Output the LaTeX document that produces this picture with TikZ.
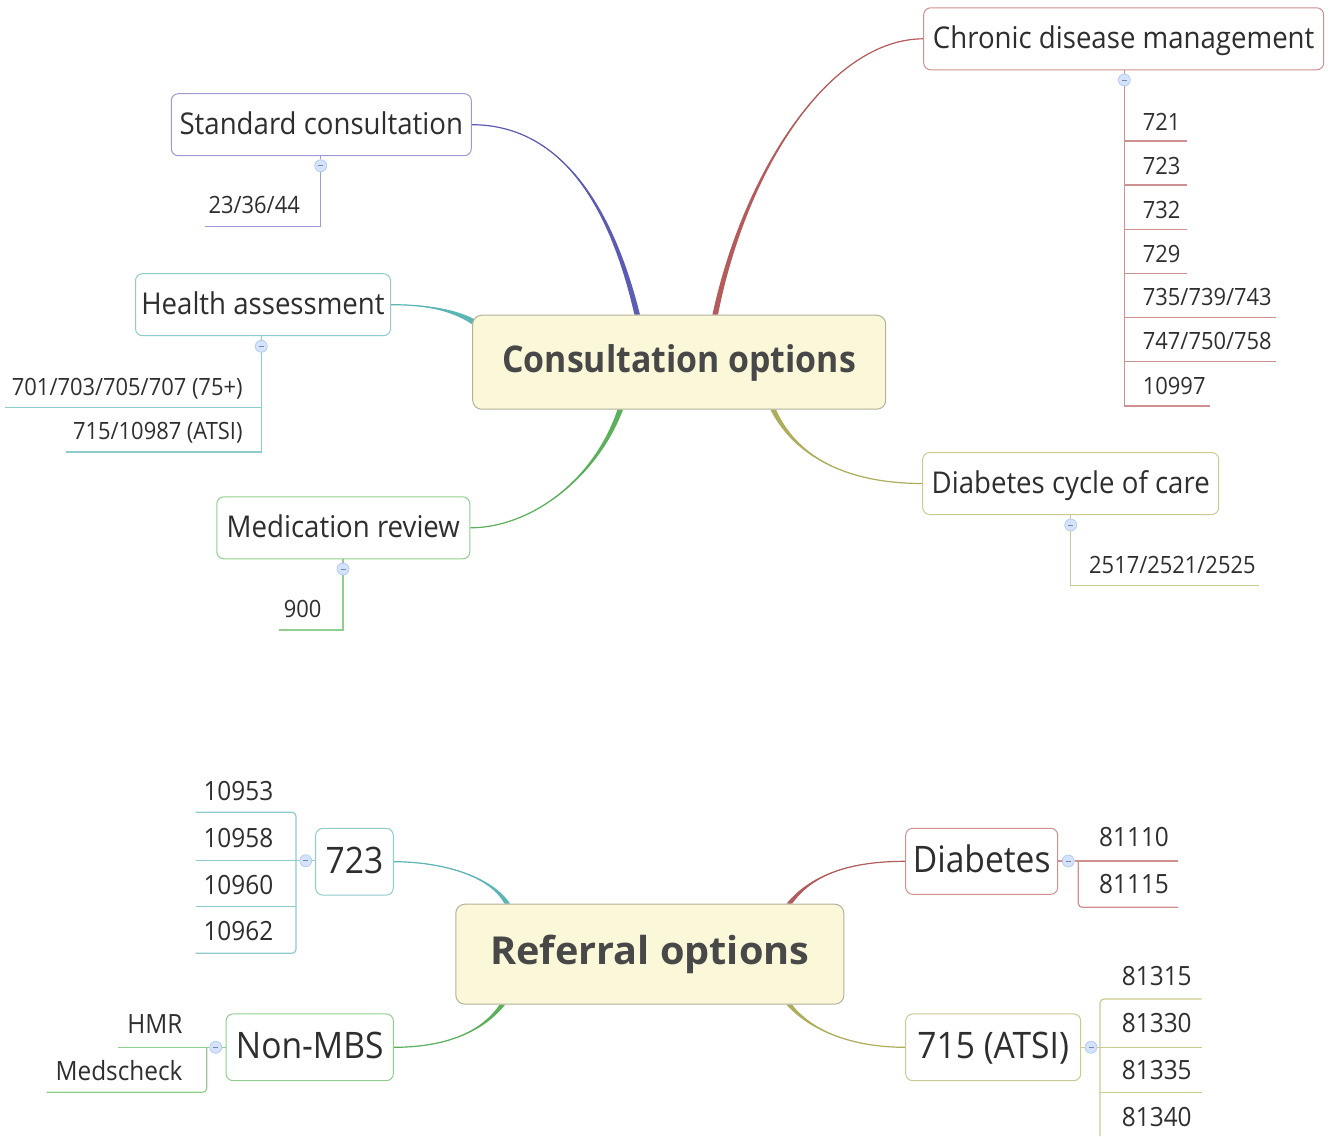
\documentclass[tikz,border=0pt]{standalone}
\usepackage{fontspec}
\setmainfont{Open Sans}[FakeStretch=0.92]
\usetikzlibrary{calc,backgrounds}
\definecolor{txt}{HTML}{2E2E2E}
\definecolor{roottxt}{HTML}{484848}
\definecolor{rootfill}{HTML}{FAF8D8}
\definecolor{rootdraw}{HTML}{B3B19C}
\definecolor{cPur}{HTML}{5C5CB4}\definecolor{bPur}{HTML}{9C9BD4}
\definecolor{cRed}{HTML}{B45C5C}\definecolor{bRed}{HTML}{CF9090}
\definecolor{cTeal}{HTML}{5CB4B4}\definecolor{bTeal}{HTML}{8ECBCB}
\definecolor{cGrn}{HTML}{5CB05C}\definecolor{bGrn}{HTML}{8ECF8E}
\definecolor{cOli}{HTML}{ADAD5C}\definecolor{bOli}{HTML}{CACA92}
\definecolor{dotfill}{HTML}{D4E2FB}\definecolor{dotdraw}{HTML}{A9C5F2}
\newcommand\taperlink[6]{%
  \fill[#1] ($(#2)+(#6)$) .. controls ($(#3)+0.5*(#6)$) and (#4) .. (#5) .. controls (#4) and ($(#3)-0.5*(#6)$) .. ($(#2)-(#6)$) -- cycle;
  \draw[#1, line width=1.2pt] (#2) .. controls (#3) and (#4) .. (#5);}
\begin{document}
\begin{tikzpicture}[x=1pt,y=-1pt,
  topic/.style={draw=#1, line width=1pt, rounded corners=7pt, fill=white, inner sep=0pt, text=txt, text height=19.5pt, text depth=0pt, font=\fontsize{30}{35}\selectfont},
  rtopic/.style={topic=#1, text height=23pt, font=\fontsize{36.5}{42}\selectfont},
  rootbox/.style={draw=rootdraw, line width=1pt, rounded corners=9pt, fill=rootfill, inner sep=0pt, text=roottxt, text height=21pt, text depth=0pt, font=\bfseries\fontsize{36.8}{44}\selectfont},
  citem/.style={inner sep=0pt, text=txt, font=\fontsize{23.8}{28}\selectfont},
  ritem/.style={inner sep=0pt, text=txt, font=\fontsize{26.5}{31}\selectfont},
  subline/.style={draw=#1, line width=1.2pt},
  dot/.style={circle, draw=dotdraw, fill=dotfill, minimum size=12pt, inner sep=0pt, line width=0.6pt,
    path picture={\draw[dotdraw!70!black, line width=0.6pt] ([xshift=-2.5pt]path picture bounding box.center) -- ([xshift=2.5pt]path picture bounding box.center);}},
]
\useasboundingbox (0,0) rectangle (1330,1136);

% ---------------- Consultation options ----------------
\node[rootbox, minimum width=413pt, minimum height=94pt] (cons) at (679.2,362.2) {Consultation options};
\node[topic=bPur, minimum width=300pt, minimum height=62pt] (std) at (321.3,124.7) {Standard consultation};
\node[topic=bTeal, minimum width=255pt, minimum height=62pt] (hea) at (263,304.7) {Health assessment};
\node[topic=bGrn, minimum width=253pt, minimum height=62pt] (med) at (343.3,527.8) {Medication review};
\node[topic=bRed, minimum width=400pt, minimum height=62pt] (chr) at (1123.7,38.8) {Chronic disease management};
\node[topic=bOli, minimum width=296pt, minimum height=62pt] (dcc) at (1070.7,483.5) {Diabetes cycle of care};

\coordinate (sStd) at ($(cons.north west)+(165,0)$);
\coordinate (sChr) at ($(cons.north west)+(243,0)$);
\coordinate (sHea) at ($(cons.north west)+(1,7)$);
\coordinate (sMed) at ($(cons.south west)+(148,0)$);
\coordinate (sDcc) at ($(cons.south west)+(301,0)$);
\begin{pgfonlayer}{background}
\taperlink{cPur}{sStd}{605,180}{545,124.7}{std.east}{2.8,0}
\taperlink{cRed}{sChr}{745,170}{830,39}{chr.west}{2.8,0}
\taperlink{cTeal}{sHea}{450,308}{420,304.7}{hea.east}{1.4,-2.4}
\taperlink{cGrn}{sMed}{595,480}{530,527.8}{med.east}{2.8,0}
\taperlink{cOli}{sDcc}{800,465}{860,483.5}{dcc.west}{2.8,0}
\end{pgfonlayer}

% Standard consultation
\node[dot] (dStd) at (320.7,165.7) {};
\draw[subline=bPur] (std.south -| dStd) -- (dStd.north);
\coordinate (eStd) at (205,226.7);
\draw[subline=bPur] (dStd.south) |- (eStd);
\node[citem, anchor=base east] (i2336) at (300,213.3) {23/36/44};

% Health assessment
\node[dot] (dHea) at (261.3,346.3) {};
\draw[subline=bTeal] (hea.south -| dHea) -- (dHea.north);
\coordinate (eHea2) at (65.7,452);
\draw[subline=bTeal] (dHea.south) |- (eHea2);
\draw[subline=bTeal] (261.3,407.7) -- (5,407.7);
\node[citem, anchor=base east] (i701) at (242.7,395) {701/703/705/707 (75+)};
\node[citem, anchor=base east] (i715) at (242.7,439.3) {715/10987 (ATSI)};

% Medication review
\node[dot] (dMed) at (343,569) {};
\draw[subline=bGrn] (med.south -| dMed) -- (dMed.north);
\coordinate (eMed) at (279.3,630);
\draw[subline=bGrn] (dMed.south) |- (eMed);
\node[citem, anchor=base east] (i900) at (321.7,617.7) {900};

% Chronic disease management
\node[dot] (dChr) at (1124.3,80) {};
\draw[subline=bRed] (chr.south -| dChr) -- (dChr.north);
\coordinate (eChr) at (1210,406);
\draw[subline=bRed] (dChr.south) |- (eChr);
\foreach \y/\xe in {141/1186.7,185/1186.7,229.3/1186.7,273.3/1186.7,317.7/1275.7,361.7/1275.7}
  \draw[subline=bRed] (1124.3,\y) -- (\xe,\y);
\node[citem, anchor=base west] (i721) at (1142.7,130) {721};
\node[citem, anchor=base west] (i723) at (1142.7,174) {723};
\node[citem, anchor=base west] (i732) at (1142.7,218.3) {732};
\node[citem, anchor=base west] (i729) at (1142.7,262.3) {729};
\node[citem, anchor=base west] (i735) at (1142.7,305.7) {735/739/743};
\node[citem, anchor=base west] (i747) at (1142.7,349.3) {747/750/758};
\node[citem, anchor=base west] (i10997) at (1142.7,394) {10997};

% Diabetes cycle of care
\node[dot] (dDcc) at (1070.7,525) {};
\draw[subline=bOli] (dcc.south -| dDcc) -- (dDcc.north);
\coordinate (eDcc) at (1259,585.7);
\draw[subline=bOli] (dDcc.south) |- (eDcc);
\node[citem, anchor=base west] (i2517) at (1089,573.3) {2517/2521/2525};

% ---------------- Referral options ----------------
\node[rootbox, minimum width=388pt, minimum height=100pt, text height=19.6pt, font=\bfseries\fontsize{38.5}{44}\selectfont] (ref) at (649.8,954.2) {\scalebox{1.12}[1]{Referral options}};
\node[rtopic=bTeal, minimum width=77.6pt, minimum height=66.7pt] (r723) at (354.5,861.7) {723};
\node[rtopic=bGrn, minimum width=167.3pt, minimum height=66.7pt] (rnon) at (309.7,1047.3) {Non-MBS};
\node[rtopic=bRed, minimum width=152pt, minimum height=66pt] (rdia) at (981.7,861.3) {Diabetes};
\node[rtopic=bOli, minimum width=175pt, minimum height=66.7pt] (ratsi) at (993.2,1047.3) {715 (ATSI)};

\coordinate (s723) at ($(ref.north west)+(52,0)$);
\coordinate (sDia) at ($(ref.north west)+(334,0)$);
\coordinate (sNon) at ($(ref.south west)+(47,0)$);
\coordinate (sAtsi) at ($(ref.south west)+(334,0)$);
\begin{pgfonlayer}{background}
\taperlink{cTeal}{s723}{490,875}{440,861.7}{r723.east}{2.8,0}
\taperlink{cRed}{sDia}{815,870}{860,861.3}{rdia.west}{2.8,0}
\taperlink{cGrn}{sNon}{480,1035}{440,1047.3}{rnon.east}{2.8,0}
\taperlink{cOli}{sAtsi}{815,1035}{860,1047.3}{ratsi.west}{2.8,0}
\end{pgfonlayer}

% 723 branch
\node[dot] (d723) at (305.7,860.7) {};
\draw[subline=bTeal] (d723.east) -- (r723.west |- d723);
\draw[subline=bTeal] (d723.west) -- (195.7,860.7);
\draw[subline=bTeal, rounded corners=4pt] (195.7,812.3) -| (296,953.3) -- (195.7,953.3);
\draw[subline=bTeal] (195.7,906.7) -- (296,906.7);
\node[ritem, anchor=base west] (i10953) at (203.3,800) {10953};
\node[ritem, anchor=base west] (i10958) at (203.3,847.3) {10958};
\node[ritem, anchor=base west] (i10960) at (203.3,894) {10960};
\node[ritem, anchor=base west] (i10962) at (203.3,940.7) {10962};

% Non-MBS branch
\node[dot] (dNon) at (215.7,1047.3) {};
\draw[subline=bGrn] (dNon.east) -- (rnon.west |- dNon);
\draw[subline=bGrn] (dNon.west) -- (118.3,1047.3);
\draw[subline=bGrn, rounded corners=4pt] (206.7,1047.3) |- (46.7,1092.3);
\node[ritem, anchor=base east] (iHMR) at (182.7,1033.3) {HMR};
\node[ritem, anchor=base east] (iMeds) at (182.7,1080.7) {Medscheck};

% Diabetes branch
\node[dot] (dDia) at (1068.3,861) {};
\draw[subline=bRed] (rdia.east |- dDia) -- (dDia.west);
\draw[subline=bRed] (dDia.east) -- (1178.3,861);
\draw[subline=bRed, rounded corners=4pt] (1078.3,861) |- (1178.3,907.3);
\node[ritem, anchor=base west] (i81110) at (1099,846.7) {81110};
\node[ritem, anchor=base west] (i81115) at (1099,893.3) {81115};

% 715 (ATSI) branch
\node[dot] (dAtsi) at (1091,1047.3) {};
\draw[subline=bOli] (ratsi.east |- dAtsi) -- (dAtsi.west);
\draw[subline=bOli] (dAtsi.east) -- (1201.7,1047.3);
\draw[subline=bOli, rounded corners=4pt] (1201.7,999) -| (1100,1136);
\draw[subline=bOli] (1100,1092.7) -- (1201.7,1092.7);
\node[ritem, anchor=base west] (i81315) at (1121.7,985) {81315};
\node[ritem, anchor=base west] (i81330) at (1121.7,1032.3) {81330};
\node[ritem, anchor=base west] (i81335) at (1121.7,1079.3) {81335};
\node[ritem, anchor=base west] (i81340) at (1121.7,1126.7) {81340};
\end{tikzpicture}
\end{document}
